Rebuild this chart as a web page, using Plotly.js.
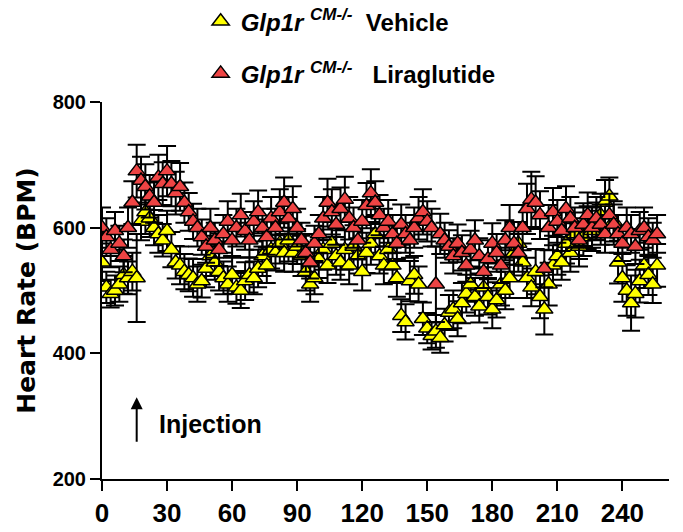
<!DOCTYPE html>
<html>
<head>
<meta charset="utf-8">
<script src="https://cdn.plot.ly/plotly-3.0.1.min.js"></script>
<style>html,body{margin:0;padding:0;background:#fff;}#chart{width:683px;height:532px;}</style>
</head>
<body>
<div id="chart"></div>
<script>
// Time (min), sampled every 2 min
const timeMin = [0,2,4,6,8,10,12,14,16,18,20,22,24,26,28,30,32,34,36,38,40,42,44,46,48,50,52,54,56,58,60,62,64,66,68,70,72,74,76,78,80,82,84,86,88,90,92,94,96,98,100,102,104,106,108,110,112,114,116,118,120,122,124,126,128,130,132,134,136,138,140,142,144,146,148,150,152,154,156,158,160,162,164,166,168,170,172,174,176,178,180,182,184,186,188,190,192,194,196,198,200,202,204,206,208,210,212,214,216,218,220,222,224,226,228,230,232,234,236,238,240,242,244,246,248,250,252,254,256];

const vehicleMean = [545,505,495,500,510,525,520,530,520,610,625,615,600,590,580,595,565,545,540,530,525,520,510,515,535,555,545,530,520,510,525,505,500,515,525,520,535,555,540,565,560,575,560,580,560,570,555,530,510,520,550,565,540,575,555,545,565,540,570,555,530,560,575,590,555,540,565,540,520,460,450,515,525,510,455,440,428,435,425,445,465,470,455,480,495,510,490,475,505,490,470,485,510,500,520,560,575,545,520,505,530,490,470,510,540,555,545,575,560,590,570,585,600,595,610,620,640,650,610,545,520,500,480,495,515,540,525,510,540];
const vehicleSem = [30,25,22,24,28,30,26,30,70,30,35,30,28,30,26,32,28,26,30,28,26,30,28,26,30,32,28,30,26,28,30,26,28,30,28,26,30,32,28,30,28,32,30,34,30,28,32,30,28,26,30,32,28,34,30,28,32,30,34,28,30,32,34,30,28,30,32,28,30,26,28,32,30,28,26,24,22,26,24,26,28,30,28,32,30,28,30,26,32,28,30,28,34,30,32,36,34,30,32,30,36,34,40,34,32,30,28,32,30,34,32,30,34,32,30,34,36,30,32,34,38,40,44,38,34,36,32,30,34];

const liraMean = [600,585,565,595,575,555,600,640,690,675,665,650,640,680,670,690,670,655,665,640,625,610,600,585,570,600,580,565,590,610,580,600,620,595,580,610,625,600,585,615,600,625,640,615,630,600,580,560,545,575,590,615,640,625,605,630,645,615,600,580,610,635,655,640,620,600,610,590,575,605,590,580,600,615,625,610,600,510,590,580,570,555,575,560,540,565,580,555,530,550,575,560,540,580,600,575,560,600,630,645,640,620,535,600,625,610,595,630,615,600,580,605,620,600,615,605,590,620,605,590,575,600,590,570,595,600,585,580,590];
const liraSem = [32,30,28,30,28,26,32,34,42,38,36,34,32,36,34,40,36,34,38,32,30,28,30,28,26,30,28,26,30,32,28,30,34,30,28,32,34,30,28,34,30,36,40,34,36,30,28,30,26,28,30,34,38,36,32,34,36,34,32,30,34,36,38,34,32,30,34,30,28,32,30,28,32,34,36,32,30,60,32,28,26,28,30,28,26,30,32,28,26,30,32,30,28,32,36,34,30,36,40,44,42,38,30,36,38,34,32,36,34,32,30,34,36,32,34,32,30,34,32,30,28,32,30,28,30,32,30,28,30];

const NB = '\u00A0';
const supTxt = '<sup><b><i><span style="font-size:17px">CM-/-</span></i></b></sup>';
const legendNames = [
  '<b><i>Glp1r</i></b>' + NB + supTxt + NB + NB + '<b>Vehicle</b>',
  '<b><i>Glp1r</i></b>' + NB + supTxt + NB + NB + NB + '<b>Liraglutide</b>'
];

const errStyle = {type:'data', visible:true, color:'#000', thickness:2, width:9};

const traces = [
  {
    x: timeMin, y: vehicleMean, type:'scatter', mode:'markers',
    name: legendNames[0], legendgroup:'veh',
    marker:{symbol:'triangle-up', size:15, color:'#FFFF00', line:{color:'#000', width:1.5}},
    error_y: Object.assign({array: vehicleSem}, errStyle)
  },
  {
    x: timeMin, y: liraMean, type:'scatter', mode:'markers',
    name: legendNames[1], legendgroup:'lira',
    marker:{symbol:'triangle-up', size:15, color:'#EE4444', line:{color:'#000', width:1.5}},
    error_y: Object.assign({array: liraSem}, errStyle)
  }
];

const layout = {
  width:683, height:532,
  margin:{l:102, r:14, t:102, b:53, autoexpand:false},
  paper_bgcolor:'#fff', plot_bgcolor:'#fff',
  font:{family:'Liberation Sans, Arial, sans-serif', color:'#000'},
  showlegend:true,
  legend:{
    x:0.174, y:1.273, xanchor:'left', yanchor:'top',
    font:{size:24, color:'#000'},
    tracegroupgap:18, itemwidth:30, traceorder:'grouped',
    bgcolor:'rgba(0,0,0,0)'
  },
  xaxis:{
    range:[0, 261.5], tickmode:'array', tickvals:[0,30,60,90,120,150,180,210,240],
    showgrid:false, zeroline:false, showline:true, linecolor:'#000', linewidth:2,
    ticks:'outside', ticklen:10, tickwidth:2, tickcolor:'#000',
    tickfont:{size:26, weight:700, color:'#000'}
  },
  yaxis:{
    range:[200, 800], tickmode:'array', tickvals:[200,400,600,800],
    showgrid:false, zeroline:false, showline:true, linecolor:'#000', linewidth:2,
    ticks:'outside', ticklen:10, tickwidth:2, tickcolor:'#000',
    tickfont:{size:20, weight:700, color:'#000'},
    title:{text:'Heart Rate (BPM)', font:{family:'DejaVu Sans', size:25, weight:700, color:'#000'}, standoff:10}
  },
  annotations:[
    {x:16, y:330, xref:'x', yref:'y', text:'', showarrow:true, ax:0, ay:46,
     arrowhead:2, arrowsize:1.2, arrowwidth:2, arrowcolor:'#000'},
    {x:25.5, y:288, xref:'x', yref:'y', text:'<b>Injection</b>', showarrow:false,
     xanchor:'left', yanchor:'middle', font:{size:25, color:'#000'}}
  ]
};

Plotly.newPlot('chart', traces, layout, {displayModeBar:false, staticPlot:true});
</script>
</body>
</html>
